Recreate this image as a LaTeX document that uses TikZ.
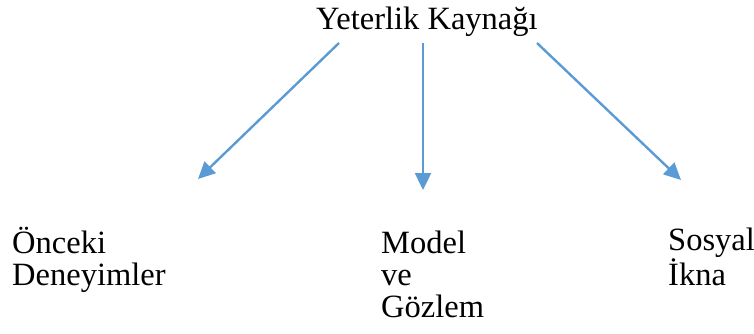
\documentclass[tikz,border=0pt]{standalone}
\usepackage{fontspec}
\setmainfont{Liberation Serif}
\usepackage{xcolor}
\usetikzlibrary{arrows.meta}
\definecolor{arrowblue}{HTML}{5B9BD5}
\definecolor{ink}{HTML}{000000}
\tikzset{
  link/.style={draw=arrowblue, line width=2.4pt, -{Triangle[length=17pt,width=16pt]}},
  lab/.style={text=ink, inner sep=0pt, align=left, anchor=base west,
    font=\fontsize{32.5}{32}\selectfont},
}

\begin{document}
\begin{tikzpicture}[x=1pt,y=-1pt]
  \useasboundingbox (0,0) rectangle (754,333);
  \node[lab] (src) at (316,29) {Yeterlik Kaynağı};
  % multi-line labels sit on their last baseline
  \node[lab] (prev) at (12,285) {Önceki\\Deneyimler};
  \node[lab] (model) at (381,317) {Model\\ve\\Gözlem};
  \node[lab] (social) at (668,285) {Sosyal\\İkna};
  \coordinate (s1) at (339,43);
  \coordinate (s2) at (423,43);
  \coordinate (s3) at (537,43);
  \coordinate (e1) at (198,179);
  \coordinate (e2) at (423,190);
  \coordinate (e3) at (681,180);
  \draw[link] (s1) -- (e1);
  \draw[link] (s2) -- (e2);
  \draw[link] (s3) -- (e3);
\end{tikzpicture}
\end{document}
